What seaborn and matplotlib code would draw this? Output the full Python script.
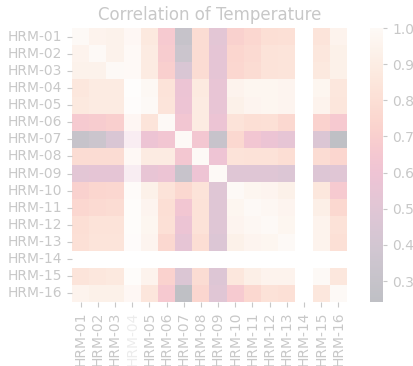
import numpy as np
import pandas as pd
import matplotlib
matplotlib.use("Agg")
import matplotlib.pyplot as plt
import seaborn as sns

sensors = ["HRM-%02d" % i for i in range(1, 17)]

# upper triangle of the correlation matrix (row by row)
r01 = [1.00, 0.95, 0.94, 0.86, 0.87, 0.67, 0.30, 0.78, 0.52, 0.71, 0.75, 0.80, 0.81, np.nan, 0.84, 0.95]
r02 = [1.00, 0.94, 0.89, 0.89, 0.68, 0.34, 0.78, 0.53, 0.74, 0.77, 0.83, 0.84, np.nan, 0.86, 0.93]
r03 = [1.00, 0.89, 0.89, 0.70, 0.45, 0.78, 0.53, 0.75, 0.78, 0.83, 0.84, np.nan, 0.87, 0.93]
r04 = [1.00, 0.99, 0.83, 0.58, 0.88, 0.55, 0.95, 0.97, 0.97, 0.96, np.nan, 0.97, 0.86]
r05 = [1.00, 0.84, 0.59, 0.89, 0.55, 0.93, 0.96, 0.97, 0.96, np.nan, 0.95, 0.85]
r06 = [1.00, 0.63, 0.89, 0.58, 0.83, 0.80, 0.81, 0.76, np.nan, 0.72, 0.66]
r07 = [1.00, 0.64, 0.31, 0.76, 0.63, 0.58, 0.54, np.nan, 0.46, 0.242]
r08 = [1.00, 0.60, 0.83, 0.82, 0.82, 0.79, np.nan, 0.78, 0.74]
r09 = [1.00, 0.49, 0.49, 0.49, 0.47, np.nan, 0.48, 0.50]
r10 = [1.00, 0.97, 0.96, 0.93, np.nan, 0.86, 0.67]
r11 = [1.00, 0.98, 0.96, np.nan, 0.92, 0.76]
r12 = [1.00, 0.97, np.nan, 0.95, 0.82]
r13 = [1.00, np.nan, 0.95, 0.81]
r14 = [np.nan, np.nan, np.nan]
r15 = [1.00, 0.86]
r16 = [1.00]

upper = [r01, r02, r03, r04, r05, r06, r07, r08, r09, r10, r11, r12, r13, r14, r15, r16]
n = len(sensors)
mat = np.full((n, n), np.nan)
for i, row in enumerate(upper):
    mat[i, i:] = row
    mat[i:, i] = row
corr = pd.DataFrame(mat, index=sensors, columns=sensors)

grey = "#c8c8c8"
plt.rcParams.update({
    "text.color": grey,
    "xtick.color": grey,
    "ytick.color": grey,
    "axes.labelcolor": grey,
    "font.size": 10,
})

fig = plt.figure(figsize=(4.14, 3.66), dpi=100)
ax = fig.add_axes([72 / 414, 64 / 366, 275 / 414, 274 / 366])
cax = fig.add_axes([370 / 414, 64 / 366, 13 / 414, 274 / 366])

sns.heatmap(corr, cmap="rocket", alpha=0.25, ax=ax, cbar_ax=cax)
cax.tick_params(length=3)
for sp in cax.spines.values():
    sp.set_visible(False)

# washed-out band over the HRM-04 column
ax.axvspan(3, 4, color="white", alpha=0.7, lw=0)
ax.get_xticklabels()[3].set_alpha(0.35)

ax.set_xlabel("")
ax.set_ylabel("")
ax.set_title("Correlation of Temperature", fontsize=12, color=grey, pad=6)

fig.savefig("out.png", dpi=100)
